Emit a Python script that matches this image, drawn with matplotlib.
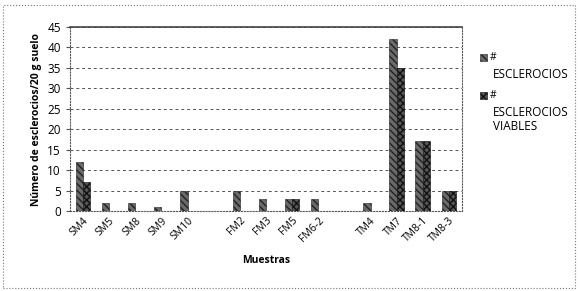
import numpy as np
import matplotlib.pyplot as plt
from matplotlib.patches import Rectangle

plt.rcParams['font.family'] = ['Open Sans', 'DejaVu Sans']

muestras = ['SM4', 'SM5', 'SM8', 'SM9', 'SM10', '', 'FM2', 'FM3', 'FM5', 'FM6-2',
            '', 'TM4', 'TM7', 'TM8-1', 'TM8-3']
esclerocios = [12, 2, 2, 1, 5, np.nan, 5, 3, 3, 3, np.nan, 2, 42, 17, 5]
viables = [7, 0, 0, 0, 0, np.nan, 0, 0, 3, 0, np.nan, 0, 35, 17, 5]

fig = plt.figure(figsize=(5.8, 2.91), dpi=100)
ax = fig.add_axes([70/580, 1 - 211/291, 392/580, 184/291])

x = np.arange(len(muestras))
w = 0.28
ax.bar(x - w/2, esclerocios, w, color='#6a6a6a', edgecolor='#222222',
       hatch='\\\\\\\\\\', linewidth=0.4, zorder=3)
ax.bar(x + w/2, viables, w, color='#555555', edgecolor='#111111',
       hatch='xxxxx', linewidth=0.4, zorder=3)

ax.set_xlim(-0.5, len(muestras) - 0.5)
ax.set_ylim(0, 45)
ax.set_yticks(range(0, 46, 5))
ax.set_xticks(x)
ax.set_xticklabels(muestras, rotation=45, ha='right', rotation_mode='anchor',
                   fontsize=7.5)
ax.tick_params(axis='y', labelsize=8.5, length=3, color='#555555')
ax.tick_params(axis='x', length=0, pad=3)
ax.yaxis.grid(True, linestyle=(0, (3, 3)), color='#555555', linewidth=0.7, zorder=0)

for s in ['left', 'right', 'bottom']:
    ax.spines[s].set_linestyle(':')
    ax.spines[s].set_color('#555555')
ax.spines['top'].set_color('#444444')
ax.spines['top'].set_linewidth(1.2)

ax.set_ylabel('Número de esclerocios/20 g suelo', fontsize=7.5,
              fontweight='bold', labelpad=4)
ax.set_xlabel('Muestras', fontsize=7.5, fontweight='bold', labelpad=8)

# leyenda
fig.patches.append(Rectangle((480/580, 1 - 61/291), 7/580, 7/291,
                             transform=fig.transFigure, facecolor='#6a6a6a',
                             edgecolor='#222222', hatch='\\\\\\\\\\', linewidth=0.4))
fig.text(490/580, 1 - 58/291, '#', fontsize=7.5, va='center')
fig.text(493/580, 1 - 74/291, 'ESCLEROCIOS', fontsize=8.5, va='center')
fig.patches.append(Rectangle((480/580, 1 - 99/291), 7/580, 7/291,
                             transform=fig.transFigure, facecolor='#555555',
                             edgecolor='#111111', hatch='xxxxx', linewidth=0.4))
fig.text(490/580, 1 - 96/291, '#', fontsize=7.5, va='center')
fig.text(493/580, 1 - 112/291, 'ESCLEROCIOS', fontsize=8.5, va='center')
fig.text(493/580, 1 - 127/291, 'VIABLES', fontsize=8.5, va='center')

# borde exterior
fig.patches.append(Rectangle((3/580, 3/291), 572/580, 283/291,
                             transform=fig.transFigure, fill=False,
                             edgecolor='#777777', linestyle=':', linewidth=0.8))

fig.savefig('out.png', dpi=100)
